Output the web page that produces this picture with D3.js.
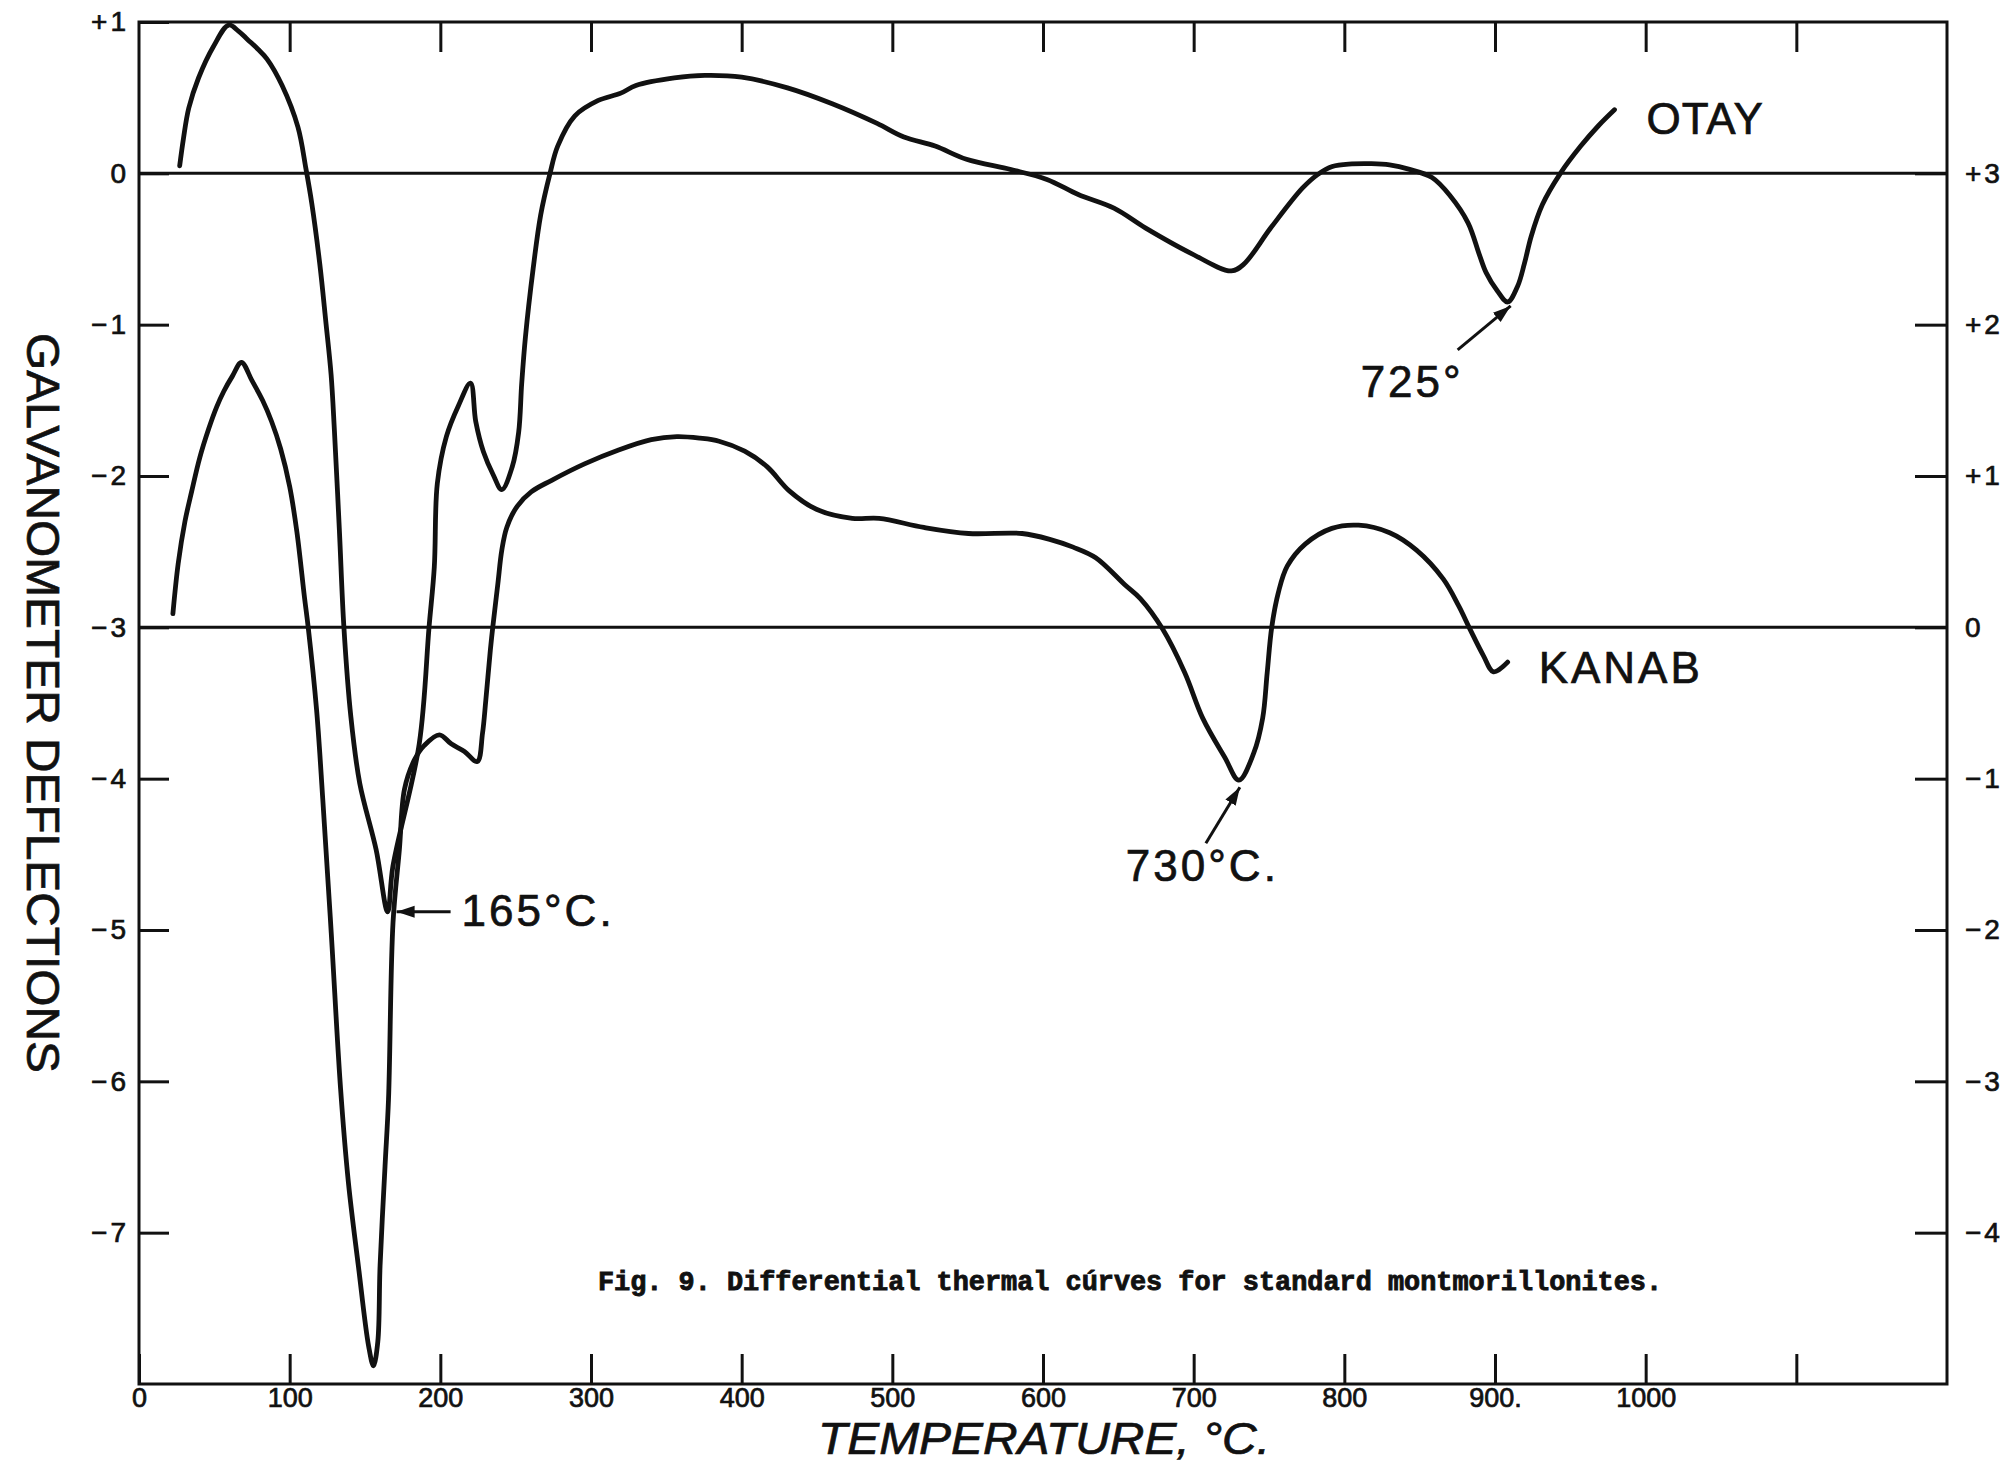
<!DOCTYPE html>
<html>
<head>
<meta charset="utf-8">
<script src="https://cdn.jsdelivr.net/npm/d3@7"></script>
<style>
  html, body { margin: 0; padding: 0; background: #fff; }
  svg { display: block; }
  text { fill: #111; }
</style>
</head>
<body>
<svg id="chart" width="2011" height="1464"></svg>
<script>
// ---- Data -------------------------------------------------------------
// OTAY: temperature (°C) and galvanometer deflection on the left scale
const otayTemp = [27, 29.5, 33, 39.5, 49.5, 59.5, 66, 72, 79, 85, 95, 105.5, 110.8, 114.7, 120, 124,
  127.5, 129.7, 133, 136, 140.6, 146.5, 157.4, 165, 168.5, 186, 192.5, 196, 198, 204, 212, 220, 223.5,
  228.6, 235, 240.8, 247.7, 252, 254, 256.5, 261.6, 266.6, 272.8, 277.9, 289.3, 304.5, 319.8, 329.8,
  355.3, 375.6, 400, 430.4, 460.1, 489.9, 507.7, 528.4, 549.2, 578.8, 602.6, 623.4, 647.1, 667.9,
  697.6, 725, 733.3, 751.2, 772, 782, 792, 805, 818, 830, 843.3, 858.2, 870.2, 882.1, 889.6, 894.1,
  901.5, 908.4, 915, 919.5, 924, 931.4, 943.4, 956.9, 968.8, 979.3];
const otayDefl = [0.05, 0.23, 0.43, 0.63, 0.84, 0.98, 0.94, 0.885, 0.82, 0.755, 0.58, 0.305, 0.03, -0.2, -0.6, -0.98,
  -1.33, -1.7, -2.36, -3.0, -3.59, -4.03, -4.47, -4.88, -4.58, -3.77, -3.0, -2.6, -2.05, -1.74, -1.536, -1.386, -1.64,
  -1.84, -1.99, -2.09, -1.94, -1.71, -1.39, -1.08, -0.63, -0.275, 0, 0.18, 0.38, 0.48, 0.53, 0.58,
  0.63, 0.647, 0.635, 0.565, 0.46, 0.33, 0.24, 0.18, 0.093, 0.025, -0.04, -0.14, -0.23, -0.36,
  -0.525, -0.645, -0.6, -0.36, -0.1, -0.01, 0.045, 0.062, 0.064, 0.056, 0.026, -0.028, -0.148, -0.327, -0.537, -0.656,
  -0.776, -0.85, -0.746, -0.597, -0.417, -0.208, 0, 0.18, 0.316, 0.42];

// KANAB: temperature (°C) and deflection on the right scale
const kanabTemp = [22.5, 26, 30.5, 35, 40.3, 46.2, 51.5, 56.3, 62, 68, 75, 82, 88, 94, 100, 104.8,
  109.8, 112.3, 117.9, 122, 127.6, 133.8, 139, 145.6, 152.4, 155.6, 158.5, 160, 163.3, 165.6, 168.6,
  172.8, 176.2, 182.8, 189.4, 199.4, 207.2, 216, 224.5, 228, 230.2, 233.2, 234.8, 238.2, 240.8, 244.1,
  251, 260.3, 273.6, 295.7, 317.9, 340, 357, 372.3, 385, 402, 417, 431.8, 449.6, 473.4, 491.2,
  520.9, 550.6, 586.1, 605, 620, 635, 654.5, 664.6, 679.3, 694.1, 706, 720.7, 730, 739.9, 745.8,
  748.8, 751.8, 756.2, 762.1, 774, 791.7, 809.4, 830.1, 847.9, 865.6, 876, 883.3, 892.2, 899, 908.4];
const kanabDefl = [0.09, 0.42, 0.7, 0.9, 1.12, 1.31, 1.455, 1.56, 1.66, 1.75, 1.63, 1.5, 1.36, 1.18, 0.93, 0.63,
  0.2, 0, -0.55, -1.14, -2.02, -3.05, -3.67, -4.22, -4.75, -4.88, -4.72, -4.22, -3.56, -3.12, -1.95,
  -1.47, -1.07, -0.876, -0.78, -0.71, -0.77, -0.82, -0.887, -0.7, -0.48, -0.15, 0, 0.29, 0.51, 0.66,
  0.8, 0.895, 0.97, 1.08, 1.17, 1.24, 1.26, 1.25, 1.23, 1.164, 1.06, 0.9, 0.78, 0.72, 0.72,
  0.66, 0.62, 0.62, 0.58, 0.53, 0.46, 0.28, 0.19, -0.01, -0.3, -0.6, -0.86, -1.01, -0.83, -0.6,
  -0.3, 0, 0.23, 0.404, 0.55, 0.654, 0.675, 0.625, 0.51, 0.32, 0.14, -0.01, -0.185, -0.294, -0.23];

// Axis ticks and their printed labels
const xTickValues = [0, 100, 200, 300, 400, 500, 600, 700, 800, 900, 1000, 1100];
const xTickLabels = ["0", "100", "200", "300", "400", "500", "600", "700", "800", "900.", "1000", ""];
const leftTickValues = [1, 0, -1, -2, -3, -4, -5, -6, -7];
const leftTickLabels = ["+1", "0", "\u22121", "\u22122", "\u22123", "\u22124", "\u22125", "\u22126", "\u22127"];
const rightTickValues = [3, 2, 1, 0, -1, -2, -3, -4];
const rightTickLabels = ["+3", "+2", "+1", "0", "\u22121", "\u22122", "\u22123", "\u22124"];

// ---- Layout -----------------------------------------------------------
const SANS = "\"Liberation Sans\", Arial, sans-serif";
const MONO = "\"Liberation Mono\", \"DejaVu Sans Mono\", monospace";
const svg = d3.select("#chart");
const X0 = 139, X1 = 1947, Y0 = 22, Y1 = 1384;
const x = d3.scaleLinear().domain([0, 1200]).range([X0, X1]);
const yL = d3.scaleLinear().domain([-8, 1]).range([Y1, Y0]);
const yR = d3.scaleLinear().domain([-5, 4]).range([Y1, Y0]);

svg.append("rect").attr("width", 2011).attr("height", 1464).attr("fill", "#fff");

// Hand lettering is a little heavier than the regular face
function lettering(sel, size) {
  return sel.style("font-family", SANS).style("font-size", size + "px")
    .attr("stroke", "#111").attr("stroke-width", 0.7);
}

function styleAxis(g, size) {
  g.select(".domain").remove();
  g.selectAll(".tick line").attr("stroke", "#111").attr("stroke-width", 3);
  g.selectAll(".tick text").attr("fill", "#111").call(lettering, size);
}

// Bottom temperature axis with inward ticks
svg.append("g").attr("transform", `translate(0,${Y1})`)
  .call(d3.axisBottom(x).tickValues(xTickValues).tickSize(-30).tickPadding(4)
    .tickFormat((d, i) => xTickLabels[i]))
  .call(g => styleAxis(g, 27));

// Top edge ticks
svg.append("g").attr("transform", `translate(0,${Y0})`)
  .call(d3.axisTop(x).tickValues(xTickValues.slice(1)).tickSize(-30).tickFormat(""))
  .call(g => styleAxis(g, 27));

// Left deflection scale (OTAY)
svg.append("g").attr("transform", `translate(${X0},0)`)
  .call(d3.axisLeft(yL).tickValues(leftTickValues).tickSize(-30).tickPadding(10)
    .tickFormat((d, i) => leftTickLabels[i]))
  .call(g => styleAxis(g, 28))
  .call(g => g.selectAll(".tick text").attr("letter-spacing", 3));

// Right deflection scale (KANAB)
svg.append("g").attr("transform", `translate(${X1},0)`)
  .call(d3.axisRight(yR).tickValues(rightTickValues).tickSize(-32).tickPadding(18)
    .tickFormat((d, i) => rightTickLabels[i]))
  .call(g => styleAxis(g, 28))
  .call(g => g.selectAll(".tick text").attr("letter-spacing", 3));

// Zero lines of the two curves
svg.append("g").selectAll("line").data([yL(0), yR(0)]).join("line")
  .attr("x1", X0).attr("x2", X1).attr("y1", d => d).attr("y2", d => d)
  .attr("stroke", "#111").attr("stroke-width", 3);

// Plot frame
svg.append("rect").attr("x", X0).attr("y", Y0).attr("width", X1 - X0).attr("height", Y1 - Y0)
  .attr("fill", "none").attr("stroke", "#111").attr("stroke-width", 3);

// ---- Curves -----------------------------------------------------------
const otay = otayTemp.map((t, i) => ({ t, v: otayDefl[i] }));
const kanab = kanabTemp.map((t, i) => ({ t, v: kanabDefl[i] }));

const lineL = d3.line().x(d => x(d.t)).y(d => yL(d.v)).curve(d3.curveCatmullRom.alpha(0.5));
const lineR = d3.line().x(d => x(d.t)).y(d => yR(d.v)).curve(d3.curveCatmullRom.alpha(0.5));

[[otay, lineL], [kanab, lineR]].forEach(([data, line]) => {
  svg.append("path").datum(data).attr("d", line)
    .attr("fill", "none").attr("stroke", "#111").attr("stroke-width", 4.8)
    .attr("stroke-linejoin", "round").attr("stroke-linecap", "round");
});

// ---- Annotations ------------------------------------------------------
svg.append("defs").append("marker")
  .attr("id", "head").attr("markerUnits", "userSpaceOnUse")
  .attr("markerWidth", 20).attr("markerHeight", 14)
  .attr("refX", 18).attr("refY", 6).attr("orient", "auto")
  .append("path").attr("d", "M0,0 L18,6 L0,12 Z").attr("fill", "#111");

function pointOf(series, scale, t) {
  const d = series.find(p => p.t === t);
  return [x(d.t), scale(d.v)];
}

const peaks = [
  { text: "165\u00B0C.", at: pointOf(otay, yL, 165), tip: [9, 0], tail: [63, 0], label: [74, 14] },
  { text: "730\u00B0C.", at: pointOf(kanab, yR, 730), tip: [1, 7], tail: [-33, 63], label: [-113, 101] },
  { text: "725\u00B0", at: pointOf(otay, yL, 908.4), tip: [3, 4], tail: [-50, 48], label: [-147, 95] }
];

peaks.forEach(p => {
  svg.append("line")
    .attr("x1", p.at[0] + p.tail[0]).attr("y1", p.at[1] + p.tail[1])
    .attr("x2", p.at[0] + p.tip[0]).attr("y2", p.at[1] + p.tip[1])
    .attr("stroke", "#111").attr("stroke-width", 3).attr("marker-end", "url(#head)");
  svg.append("text").attr("x", p.at[0] + p.label[0]).attr("y", p.at[1] + p.label[1])
    .call(lettering, 44).attr("letter-spacing", 3).text(p.text);
});

// Curve names next to the ends of the traces
const otayEnd = otay[otay.length - 1], kanabEnd = kanab[kanab.length - 1];
svg.append("text").attr("x", x(otayEnd.t) + 32).attr("y", yL(otayEnd.v) + 24)
  .call(lettering, 44).attr("letter-spacing", 1).text("OTAY");
svg.append("text").attr("x", x(kanabEnd.t) + 31).attr("y", yR(kanabEnd.v) + 21)
  .call(lettering, 44).attr("letter-spacing", 3).text("KANAB");

// ---- Titles -----------------------------------------------------------
svg.append("text")
  .attr("transform", "translate(27,703) rotate(90)")
  .attr("text-anchor", "middle")
  .call(lettering, 46)
  .attr("textLength", 740).attr("lengthAdjust", "spacingAndGlyphs")
  .text("GALVANOMETER DEFLECTIONS");

svg.append("text")
  .attr("x", 818).attr("y", 1454)
  .call(lettering, 44).style("font-style", "italic")
  .attr("textLength", 452).attr("lengthAdjust", "spacingAndGlyphs")
  .text("TEMPERATURE, \u00B0C.");

svg.append("text")
  .attr("x", 598).attr("y", 1290)
  .style("font-family", MONO).style("font-weight", "bold").style("font-size", "27px")
  .attr("stroke", "#111").attr("stroke-width", 0.9)
  .attr("textLength", 1064).attr("lengthAdjust", "spacingAndGlyphs")
  .text("Fig. 9. Differential thermal c\u00FArves for standard montmorillonites.");
</script>
</body>
</html>
